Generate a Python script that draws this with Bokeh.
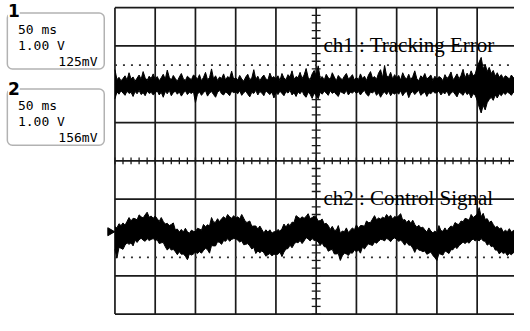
import math
from bokeh.plotting import figure
from bokeh.models import Range1d, Label, BoxAnnotation
from bokeh.embed import file_html
from bokeh.resources import INLINE

# ---- scope settings ----
MS_PER_DIV = 50          # time base
N_HDIV = 10
N_VDIV = 8
SAMPLE_MS = 2.5          # sample spacing of the envelope readings

ch_titles = ["ch1 : Tracking Error", "ch2 : Control Signal"]
ch_timebase = ["50 ms", "50 ms"]
ch_volts = ["1.00 V", "1.00 V"]
ch_offset = ["125mV", "156mV"]

# ---- ch1 envelope (upper / lower edge of the noisy trace, in divisions) ----
ch1_hi = [
 2.38, 2.12, 2.18, 2.09, 2.15, 2.22, 2.11, 2.30, 2.14, 2.19, 2.08, 2.16, 2.24, 2.13, 2.33, 2.17, 2.10, 2.21, 2.15, 2.27,
 2.12, 2.20, 2.09, 2.17, 2.26, 2.13, 2.37, 2.18, 2.11, 2.23, 2.15, 2.08, 2.19, 2.28, 2.14, 2.10, 2.21, 2.16, 2.12, 2.24,
 2.20, 2.13, 2.25, 2.09, 2.18, 2.31, 2.12, 2.17, 2.40, 2.14, 2.22, 2.10, 2.19, 2.15, 2.27, 2.11, 2.20, 2.16, 2.34, 2.13,
 2.17, 2.11, 2.23, 2.14, 2.08, 2.19, 2.26, 2.12, 2.16, 2.38, 2.13, 2.21, 2.09, 2.18, 2.24, 2.14, 2.11, 2.29, 2.16, 2.20,
 2.14, 2.22, 2.10, 2.28, 2.16, 2.12, 2.25, 2.19, 2.35, 2.13, 2.20, 2.17, 2.31, 2.15, 2.24, 2.41, 2.18, 2.12, 2.27, 2.36,
 2.22, 2.48, 2.15, 2.20, 2.11, 2.26, 2.17, 2.13, 2.30, 2.19, 2.09, 2.23, 2.16, 2.12, 2.21, 2.28, 2.14, 2.18, 2.25, 2.11,
 2.18, 2.12, 2.27, 2.15, 2.21, 2.10, 2.24, 2.33, 2.16, 2.20, 2.13, 2.29, 2.38, 2.17, 2.49, 2.22, 2.19, 2.31, 2.14, 2.25,
 2.16, 2.23, 2.11, 2.30, 2.18, 2.14, 2.26, 2.12, 2.20, 2.35, 2.15, 2.09, 2.22, 2.17, 2.28, 2.13, 2.19, 2.24, 2.10, 2.21,
 2.13, 2.20, 2.17, 2.09, 2.25, 2.15, 2.21, 2.32, 2.12, 2.18, 2.27, 2.14, 2.23, 2.39, 2.16, 2.29, 2.19, 2.35, 2.22, 2.26,
 2.45, 2.58, 2.70, 2.40, 2.52, 2.33, 2.44, 2.28, 2.36, 2.21, 2.30, 2.18, 2.25, 2.15, 2.22, 2.19, 2.13, 2.24, 2.17, 2.20,
]
ch1_lo = [
 1.62, 1.80, 1.74, 1.83, 1.77, 1.71, 1.82, 1.76, 1.79, 1.68, 1.81, 1.75, 1.84, 1.73, 1.78, 1.70, 1.82, 1.76, 1.79, 1.72,
 1.77, 1.83, 1.72, 1.79, 1.66, 1.81, 1.75, 1.84, 1.70, 1.78, 1.82, 1.74, 1.80, 1.69, 1.77, 1.83, 1.73, 1.79, 1.76, 1.81,
 1.52, 1.74, 1.80, 1.71, 1.78, 1.83, 1.69, 1.77, 1.81, 1.73, 1.66, 1.79, 1.84, 1.75, 1.72, 1.80, 1.76, 1.70, 1.82, 1.78,
 1.80, 1.75, 1.83, 1.71, 1.78, 1.82, 1.74, 1.67, 1.79, 1.76, 1.84, 1.72, 1.81, 1.77, 1.70, 1.83, 1.78, 1.73, 1.80, 1.64,
 1.79, 1.73, 1.82, 1.76, 1.70, 1.81, 1.77, 1.84, 1.72, 1.78, 1.68, 1.80, 1.75, 1.83, 1.71, 1.66, 1.79, 1.74, 1.63, 1.77,
 1.70, 1.62, 1.79, 1.74, 1.82, 1.77, 1.71, 1.83, 1.76, 1.80, 1.73, 1.68, 1.81, 1.78, 1.75, 1.84, 1.72, 1.79, 1.77, 1.82,
 1.76, 1.81, 1.72, 1.79, 1.84, 1.74, 1.69, 1.80, 1.77, 1.83, 1.71, 1.78, 1.66, 1.75, 1.80, 1.73, 1.82, 1.70, 1.78, 1.74,
 1.80, 1.74, 1.83, 1.70, 1.78, 1.82, 1.65, 1.77, 1.81, 1.73, 1.79, 1.84, 1.71, 1.76, 1.80, 1.68, 1.78, 1.75, 1.82, 1.77,
 1.78, 1.82, 1.72, 1.79, 1.75, 1.83, 1.70, 1.77, 1.81, 1.74, 1.67, 1.80, 1.76, 1.71, 1.82, 1.73, 1.78, 1.64, 1.75, 1.72,
 1.58, 1.40, 1.25, 1.45, 1.33, 1.52, 1.60, 1.66, 1.58, 1.72, 1.64, 1.75, 1.70, 1.78, 1.73, 1.80, 1.76, 1.71, 1.79, 1.74,
]

# ---- ch2 envelope ----
ch2_hi = [
 -1.72, -1.75, -1.64, -1.69, -1.62, -1.68, -1.58, -1.48, -1.57, -1.50, -1.51, -1.54, -1.41, -1.46, -1.49, -1.41, -1.34, -1.47, -1.44, -1.50,
 -1.44, -1.51, -1.58, -1.48, -1.58, -1.65, -1.63, -1.69, -1.66, -1.62, -1.80, -1.78, -1.86, -1.79, -1.86, -1.76, -1.85, -1.89, -1.81, -1.84,
 -1.85, -1.76, -1.78, -1.81, -1.66, -1.72, -1.67, -1.70, -1.48, -1.60, -1.60, -1.51, -1.59, -1.51, -1.46, -1.51, -1.40, -1.46, -1.50, -1.43,
 -1.50, -1.46, -1.51, -1.40, -1.50, -1.60, -1.60, -1.57, -1.71, -1.70, -1.70, -1.78, -1.70, -1.79, -1.88, -1.80, -1.86, -1.80, -1.89, -1.85,
 -1.85, -1.79, -1.84, -1.77, -1.65, -1.73, -1.64, -1.69, -1.60, -1.61, -1.43, -1.47, -1.51, -1.46, -1.50, -1.45, -1.38, -1.51, -1.48, -1.44,
 -1.47, -1.57, -1.56, -1.52, -1.65, -1.63, -1.69, -1.79, -1.71, -1.81, -1.81, -1.69, -1.89, -1.83, -1.85, -1.75, -1.87, -1.81, -1.75, -1.80,
 -1.67, -1.76, -1.69, -1.69, -1.71, -1.57, -1.61, -1.61, -1.52, -1.43, -1.54, -1.49, -1.52, -1.47, -1.50, -1.40, -1.47, -1.42, -1.52, -1.45,
 -1.48, -1.43, -1.38, -1.55, -1.53, -1.61, -1.55, -1.63, -1.55, -1.66, -1.73, -1.68, -1.75, -1.73, -1.80, -1.86, -1.75, -1.83, -1.88, -1.83,
 -1.89, -1.69, -1.82, -1.84, -1.75, -1.84, -1.75, -1.70, -1.73, -1.61, -1.65, -1.66, -1.57, -1.59, -1.50, -1.52, -1.55, -1.40, -1.48, -1.44,
 -1.39, -1.22, -1.46, -1.37, -1.53, -1.51, -1.61, -1.57, -1.66, -1.74, -1.71, -1.77, -1.75, -1.86, -1.81, -1.85, -1.77, -1.86, -1.82, -1.78,
]
ch2_lo = [
 -2.31, -2.54, -2.26, -2.28, -2.31, -2.20, -2.14, -2.18, -2.14, -2.22, -2.07, -2.13, -2.06, -2.02, -2.07, -2.10, -2.03, -2.08, -2.05, -2.03,
 -2.08, -2.06, -2.16, -2.14, -2.13, -2.24, -2.33, -2.26, -2.33, -2.31, -2.37, -2.45, -2.37, -2.44, -2.43, -2.49, -2.58, -2.43, -2.46, -2.43,
 -2.38, -2.42, -2.37, -2.41, -2.34, -2.28, -2.32, -2.41, -2.21, -2.22, -2.22, -2.11, -2.13, -2.18, -2.08, -2.10, -2.03, -2.10, -2.05, -2.03,
 -2.03, -2.07, -2.12, -2.09, -2.19, -2.18, -2.16, -2.22, -2.30, -2.26, -2.42, -2.35, -2.40, -2.35, -2.40, -2.49, -2.45, -2.42, -2.48, -2.44,
 -2.44, -2.44, -2.38, -2.50, -2.38, -2.30, -2.29, -2.20, -2.27, -2.18, -2.12, -2.14, -2.08, -2.16, -2.09, -2.00, -2.04, -2.09, -2.03, -2.08,
 -2.07, -2.12, -2.20, -2.15, -2.24, -2.25, -2.36, -2.33, -2.31, -2.43, -2.43, -2.42, -2.60, -2.48, -2.41, -2.43, -2.47, -2.40, -2.41, -2.33,
 -2.37, -2.33, -2.41, -2.25, -2.30, -2.22, -2.17, -2.19, -2.21, -2.12, -2.15, -2.10, -2.05, -2.06, -2.09, -2.02, -2.06, -2.11, -2.04, -2.01,
 -2.05, -2.10, -2.07, -2.12, -2.20, -2.12, -2.20, -2.20, -2.28, -2.39, -2.27, -2.33, -2.34, -2.37, -2.35, -2.44, -2.41, -2.38, -2.47, -2.53,
 -2.60, -2.42, -2.44, -2.46, -2.35, -2.38, -2.42, -2.32, -2.32, -2.24, -2.29, -2.21, -2.17, -2.12, -2.16, -2.11, -2.15, -2.08, -2.04, -2.09,
 -2.05, -2.09, -2.03, -2.09, -2.10, -2.20, -2.16, -2.24, -2.22, -2.33, -2.33, -2.43, -2.37, -2.42, -2.39, -2.47, -2.42, -2.45, -2.40, -2.41,
]

cursor_levels = [2.5, -2.52]     # dotted level markers
ch2_ground = -1.85               # ground marker of ch2

t = [i * SAMPLE_MS for i in range(len(ch1_hi))]
T_END = MS_PER_DIV * N_HDIV

p = figure(width=514, height=315, x_range=Range1d(-142.2, 496.4), y_range=Range1d(-4.037, 4.186),
           x_axis_type=None, y_axis_type=None, toolbar_location=None, output_backend="svg",
           min_border=0, outline_line_color=None, background_fill_color="white",
           border_fill_color="white")
p.xgrid.visible = False
p.ygrid.visible = False

GRID = "#1a1a1a"
# graticule
vx = [i * MS_PER_DIV for i in range(N_HDIV + 1)]
p.segment(x0=vx, y0=[-N_VDIV / 2] * len(vx), x1=vx, y1=[N_VDIV / 2] * len(vx),
          line_color=GRID, line_width=1.7)
hy = [i - N_VDIV / 2 for i in range(N_VDIV + 1)]
p.segment(x0=[0] * len(hy), y0=hy, x1=[T_END] * len(hy), y1=hy, line_color=GRID, line_width=1.7)

# centre-axis minor ticks
tx = [i * MS_PER_DIV / 5 for i in range(N_HDIV * 5 + 1)]
p.segment(x0=tx, y0=[-0.09] * len(tx), x1=tx, y1=[0.09] * len(tx), line_color=GRID, line_width=1.3)
ty = [-N_VDIV / 2 + i * 0.2 for i in range(N_VDIV * 5 + 1)]
p.segment(x0=[T_END / 2 - 5.5] * len(ty), y0=ty, x1=[T_END / 2 + 5.5] * len(ty), y1=ty,
          line_color=GRID, line_width=1.3)

# dotted cursor levels
for lv in cursor_levels:
    p.line([0, T_END], [lv, lv], line_color="#333333", line_width=1.6, line_dash="2 6")

# traces
for hi, lo in ((ch1_hi, ch1_lo), (ch2_hi, ch2_lo)):
    p.varea(x=t, y1=lo, y2=hi, fill_color="black")
    p.line(t, hi, line_color="black", line_width=1)
    p.line(t, lo, line_color="black", line_width=1)

# ground marker of ch2
p.scatter([-6], [ch2_ground], marker="triangle", size=8, angle=-math.pi / 2,
          fill_color="black", line_color="black")

# channel titles
for title, yb in zip(ch_titles, [3.02, -0.98]):
    p.add_layout(Label(x=259, y=yb, text=title, text_font="Liberation Serif",
                       text_font_size="21px", text_color="black", text_baseline="alphabetic"))

# channel setting boxes
boxes = [(3.86, 2.40), (1.876, 0.41)]
num_tops = [4.09, 2.05]
for k, (top, bot) in enumerate(boxes):
    p.add_layout(BoxAnnotation(left=-133.7, right=-13.3, top=top, bottom=bot,
                               fill_alpha=0, line_color="black", line_width=1.5, border_radius=5))
    p.add_layout(Label(x=-133.0, y=num_tops[k], text=str(k + 1), text_font="DejaVu Sans",
                       text_font_style="bold", text_font_size="17px", text_color="black",
                       text_baseline="top", background_fill_color="white"))
    lines = [(ch_timebase[k], "left", -120.5), (ch_volts[k], "left", -120.5),
             (ch_offset[k], "right", -21.7)]
    for j, (txt, al, xx) in enumerate(lines):
        p.add_layout(Label(x=xx, y=top - 0.42 - j * 0.42, text=txt, text_font="DejaVu Sans Mono",
                           text_font_size="13px", text_color="black", text_align=al,
                           text_baseline="alphabetic"))

open("out.html", "w").write(file_html(p, INLINE))
